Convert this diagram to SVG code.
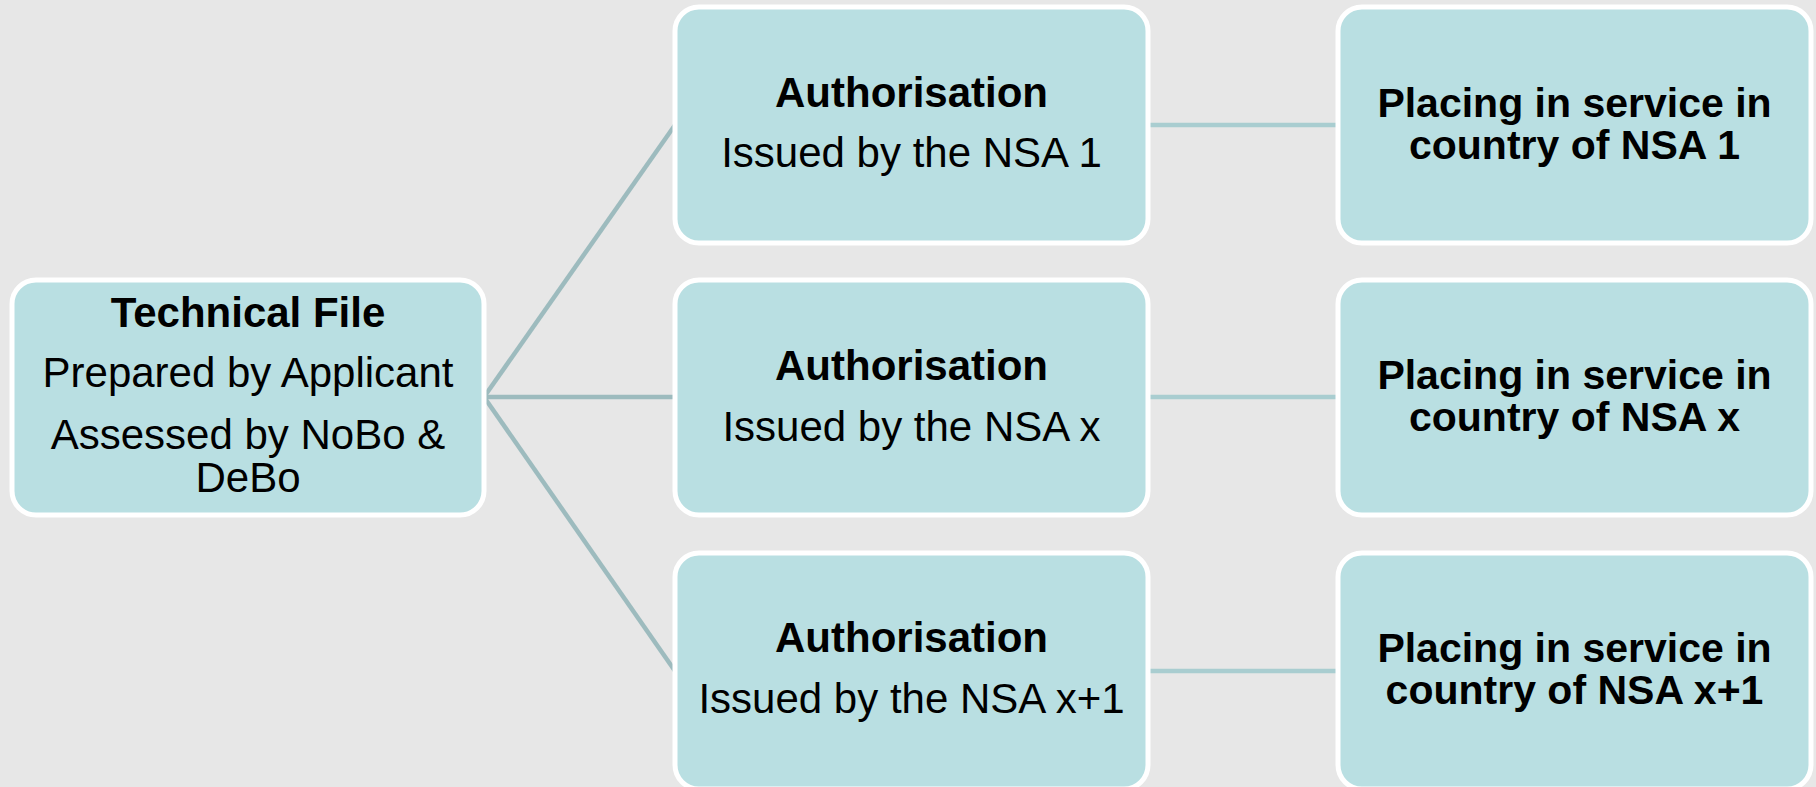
<svg xmlns="http://www.w3.org/2000/svg" width="1816" height="787" viewBox="0 0 1816 787">
  <style>
    .box { fill: #B9DFE2; stroke: #FFFFFF; stroke-width: 5; }
    .t { font-family: "Liberation Sans", Arial, sans-serif; font-size: 42px; fill: #000000; text-anchor: middle; }
    .b { font-weight: bold; }
    .tight { font-size: 41px; }
    .link { stroke: #9DBBBE; stroke-width: 4.5; fill: none; }
    .link2 { stroke: #A9CDD0; stroke-width: 4.5; fill: none; }
  </style>
  <rect x="0" y="0" width="1816" height="787" fill="#E7E7E7"/>

  <g id="connectors">
    <line class="link" x1="484" y1="397" x2="675" y2="125"/>
    <line class="link" x1="484" y1="397" x2="675" y2="397"/>
    <line class="link" x1="484" y1="397" x2="675" y2="671"/>
    <line class="link2" x1="1148" y1="125" x2="1338" y2="125"/>
    <line class="link2" x1="1148" y1="397" x2="1338" y2="397"/>
    <line class="link2" x1="1148" y1="671" x2="1338" y2="671"/>
  </g>

  <g id="technical-file">
    <rect class="box" x="12" y="280" width="472" height="235" rx="24"/>
    <text class="t b" x="248" y="327">Technical File</text>
    <text class="t" x="248" y="387">Prepared by Applicant</text>
    <text class="t" x="248" y="449">Assessed by NoBo &amp;</text>
    <text class="t" x="248" y="492">DeBo</text>
  </g>

  <g id="auth-nsa-1">
    <rect class="box" x="675" y="7" width="473" height="236" rx="24"/>
    <text class="t b" x="911.5" y="107">Authorisation</text>
    <text class="t" x="911.5" y="167">Issued by the NSA 1</text>
  </g>

  <g id="auth-nsa-x">
    <rect class="box" x="675" y="280" width="473" height="235" rx="24"/>
    <text class="t b" x="911.5" y="380">Authorisation</text>
    <text class="t" x="911.5" y="441">Issued by the NSA x</text>
  </g>

  <g id="auth-nsa-x1">
    <rect class="box" x="675" y="553" width="473" height="236" rx="24"/>
    <text class="t b" x="911.5" y="652">Authorisation</text>
    <text class="t" x="911.5" y="713">Issued by the NSA x+1</text>
  </g>

  <g id="service-nsa-1">
    <rect class="box" x="1338" y="7" width="473" height="236" rx="24"/>
    <text class="t b tight" x="1574.5" y="117">Placing in service in</text>
    <text class="t b tight" x="1574.5" y="159">country of NSA 1</text>
  </g>

  <g id="service-nsa-x">
    <rect class="box" x="1338" y="280" width="473" height="235" rx="24"/>
    <text class="t b tight" x="1574.5" y="389">Placing in service in</text>
    <text class="t b tight" x="1574.5" y="431">country of NSA x</text>
  </g>

  <g id="service-nsa-x1">
    <rect class="box" x="1338" y="553" width="473" height="236" rx="24"/>
    <text class="t b tight" x="1574.5" y="662">Placing in service in</text>
    <text class="t b tight" x="1574.5" y="704">country of NSA x+1</text>
  </g>
</svg>
